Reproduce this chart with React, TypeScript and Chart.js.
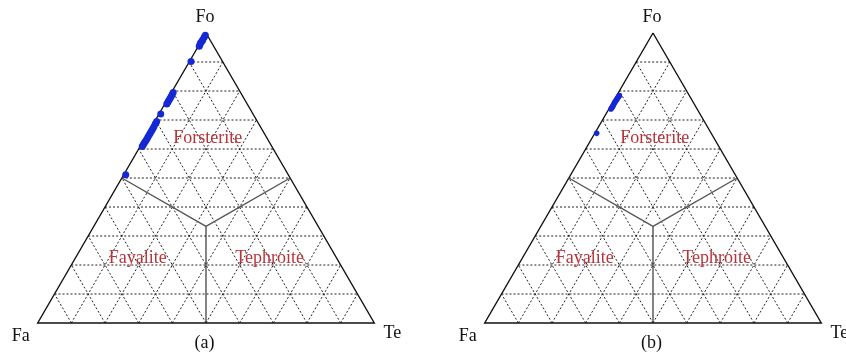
import React, { useEffect, useRef } from "react";
import { Chart, registerables } from "chart.js";

Chart.register(...registerables);

// ---- Data (ternary fractions) ----
const panelAFo = [0.992, 0.985, 0.977, 0.972, 0.966, 0.96, 0.954, 0.902, 0.795, 0.788, 0.781, 0.774, 0.767, 0.761, 0.755, 0.721, 0.695, 0.687, 0.678, 0.67, 0.663, 0.656, 0.649, 0.641, 0.634, 0.627, 0.621, 0.615, 0.609, 0.511];
const panelATe = [0.002, 0.002, 0.002, 0.002, 0.001, 0.002, 0.003, 0.0045, 0.005, 0.0055, 0.006, 0.006, 0.006, 0.006, 0.006, 0.005, 0.006, 0.006, 0.0065, 0.007, 0.007, 0.007, 0.007, 0.007, 0.007, 0.0065, 0.006, 0.006, 0.006, 0.006];
const panelBFo = [0.784, 0.78, 0.776, 0.771, 0.767, 0.762, 0.758, 0.752, 0.746, 0.742, 0.738, 0.654];
const panelBTe = [0.008, 0.0075, 0.007, 0.007, 0.0065, 0.006, 0.006, 0.0065, 0.007, 0.0065, 0.006, 0.0056];

const vertexLabels = ["Fo", "Fa", "Te"];
const regionLabels = ["Forsterite", "Fayalite", "Tephroite"];
const panelCaptions = ["(a)", "(b)"];
const gridDivisions = 10;

// ---- Layout (in data units) ----
const H = Math.sqrt(3) / 2;
const PANEL_OFFSETS = [0, 1.328];
const X_MIN = -0.112;
const X_MAX = 2.4014;
const Y_MIN = -0.0985;
const Y_MAX = 0.9646;
const REGION_POS = [
  { x: 0.505, y: 0.537 },
  { x: 0.297, y: 0.179 },
  { x: 0.689, y: 0.179 },
];

const tern = (fo: number, te: number, off: number) => ({ x: off + te + fo / 2, y: fo * H });

function lineDs(pts: { x: number; y: number }[], color: string, width: number, dash: number[], order: number) {
  return {
    type: "line" as const,
    data: pts,
    borderColor: color,
    borderWidth: width,
    borderDash: dash,
    pointRadius: 0,
    fill: false,
    showLine: true,
    tension: 0,
    order,
  };
}

function buildDatasets() {
  const ds: any[] = [];
  PANEL_OFFSETS.forEach((off, pi) => {
    // dashed grid
    for (let k = 1; k < gridDivisions; k++) {
      const f = k / gridDivisions;
      ds.push(lineDs([tern(f, 0, off), tern(f, 1 - f, off)], "#222", 1, [2, 2], 5));
      ds.push(lineDs([tern(0, f, off), tern(1 - f, f, off)], "#222", 1, [2, 2], 5));
      ds.push(lineDs([tern(0, 1 - f, off), tern(1 - f, 0, off)], "#222", 1, [2, 2], 5));
    }
    // outline
    ds.push(lineDs([tern(1, 0, off), tern(0, 0, off), tern(0, 1, off), tern(1, 0, off)], "#111", 1.4, [], 3));
    // field boundaries
    const c = tern(1 / 3, 1 / 3, off);
    ds.push(lineDs([tern(0.5, 0, off), c], "#555", 1.4, [], 2));
    ds.push(lineDs([tern(0.5, 0.5, off), c], "#555", 1.4, [], 2));
    ds.push(lineDs([c, tern(0, 0.5, off)], "#222", 1.1, [], 2));
    // points
    const fo = pi === 0 ? panelAFo : panelBFo;
    const te = pi === 0 ? panelATe : panelBTe;
    ds.push({
      type: "scatter" as const,
      data: fo.map((v, i) => tern(v, te[i], off)),
      backgroundColor: "#1428d6",
      borderColor: "#1428d6",
      borderWidth: 0,
      pointRadius: pi === 0 ? 3.5 : 2.8,
      order: 0,
    });
  });
  return ds;
}

const labelPlugin = {
  id: "ternLabels",
  afterDatasetsDraw(chart: any) {
    const { ctx } = chart;
    const xs = chart.scales.x;
    const ys = chart.scales.y;
    const px = (x: number) => xs.getPixelForValue(x);
    const py = (y: number) => ys.getPixelForValue(y);
    ctx.save();
    ctx.textAlign = "center";
    ctx.textBaseline = "alphabetic";
    PANEL_OFFSETS.forEach((off, pi) => {
      ctx.font = '18px "Liberation Serif", "DejaVu Serif", serif';
      ctx.fillStyle = "#111";
      const apex = tern(1, 0, off);
      const left = tern(0, 0, off);
      const right = tern(0, 1, off);
      ctx.fillText(vertexLabels[0], px(apex.x) - 1, py(apex.y) - 10.7);
      ctx.fillText(vertexLabels[1], px(left.x) - 17, py(left.y) + 17.8);
      ctx.fillText(vertexLabels[2], px(right.x) + 18, py(right.y) + 14.5);
      ctx.fillText(panelCaptions[pi], px(off + 0.5) - 1.5, py(0) + 25);
      ctx.fillStyle = "#b8343a";
      regionLabels.forEach((t, i) => {
        ctx.fillText(t, px(off + REGION_POS[i].x), py(REGION_POS[i].y));
      });
    });
    ctx.restore();
  },
};

const bgPlugin = {
  id: "bg",
  beforeDraw(chart: any) {
    const { ctx, width, height } = chart;
    ctx.save();
    ctx.fillStyle = "#fff";
    ctx.fillRect(0, 0, width, height);
    ctx.restore();
  },
};

export default function App() {
  const ref = useRef<HTMLCanvasElement>(null);
  useEffect(() => {
    if (!ref.current) return;
    const chart = new Chart(ref.current, {
      type: "scatter",
      data: { datasets: buildDatasets() },
      options: {
        animation: false,
        responsive: false,
        events: [],
        layout: { padding: 0, autoPadding: false },
        plugins: { legend: { display: false }, tooltip: { enabled: false } },
        scales: {
          x: { type: "linear", min: X_MIN, max: X_MAX, display: false },
          y: { type: "linear", min: Y_MIN, max: Y_MAX, display: false },
        },
      },
      plugins: [bgPlugin, labelPlugin],
    });
    return () => chart.destroy();
  }, []);
  return (
    <canvas
      ref={ref}
      width={846}
      height={356}
      style={{ position: "fixed", left: 0, top: 0, width: 846, height: 356, display: "block" }}
    />
  );
}
